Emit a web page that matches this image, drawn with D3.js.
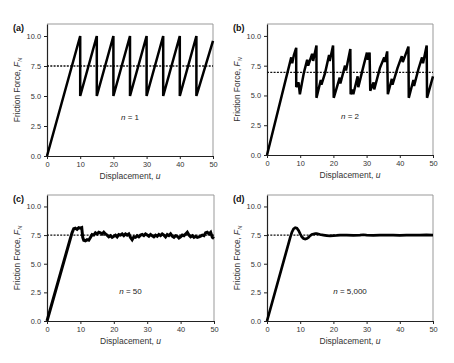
<!DOCTYPE html>
<html>
<head>
<meta charset="utf-8">
<script src="https://cdn.jsdelivr.net/npm/d3@7/dist/d3.min.js"></script>
<style>
  body { margin: 0; background: #fff; }
  svg { display: block; font-family: "Liberation Sans", Arial, sans-serif; }
</style>
</head>
<body>
<div id="chart"></div>
<script>
// data: [u, F_N]
var nOne = [[0,0],[10,10],[10,5],[15,10],[15,5],[20,10],[20,5],[25,10],[25,5],[30,10],[30,5],
  [35,10],[35,5],[40,10],[40,5],[45,10],[45,5],[50,9.6]];

var nTwo = [[0,0],[7.3,8.2],[7.6,7.7],[8.1,8.4],[8.8,9.0],[8.8,5.7],[9.5,6.1],[9.9,5.1],[11.1,6.9],
  [12.1,8.0],[12.4,7.5],[13.6,8.5],[13.9,7.9],[14.9,9.2],[14.9,4.8],[16.2,6.3],[16.4,5.9],[17.5,6.9],
  [18.7,8.4],[18.9,7.9],[19.9,9.2],[20.1,4.8],[21.9,6.5],[22.1,6.0],[23.5,7.5],[23.8,7.1],[25.1,8.9],
  [25.2,5.1],[25.8,5.5],[26.0,5.1],[27.3,6.6],[27.5,5.7],[29.0,7.4],[30.1,8.6],[30.4,8.0],[30.9,8.6],
  [31.1,5.4],[32.1,6.1],[32.3,5.5],[34.0,7.3],[35.3,8.2],[35.5,7.8],[36.2,8.7],[36.4,5.1],[37.6,6.4],
  [37.8,5.9],[39.3,7.3],[40.6,8.3],[40.9,7.8],[42.6,9.1],[42.7,4.8],[44.1,6.3],[44.3,5.8],[45.6,7.2],
  [46.7,8.2],[47.0,7.7],[48.1,9.2],[48.2,4.8],[50,6.6]];

var nFifty = [[0,0],[7.0,7.2],[7.5,7.7],[8.0,8.05],[8.5,8.1],[9.0,8.0],[9.5,8.15],[10.0,8.1],[10.4,8.15],
  [10.7,7.3],[11.0,7.05],[11.5,7.0],[12.0,7.1],[12.5,7.05],[13.0,7.3],[13.5,7.55],[14.0,7.5],[14.5,7.7],
  [15.0,7.6],[15.5,7.75],[16.0,7.7],[16.5,7.6],[17.0,7.75],[17.5,7.6],[18.0,7.5],[18.5,7.35],[19.0,7.45],
  [19.5,7.3],[20.0,7.4],[20.5,7.5],[21.0,7.35],[21.5,7.55],[22.0,7.5],[22.5,7.6],[23.0,7.45],[23.5,7.6],
  [24.0,7.5],[24.5,7.6],[25.0,7.3],[25.5,7.1],[26.0,7.35],[26.5,7.3],[27.0,7.45],[27.5,7.35],[28.0,7.5],
  [28.5,7.55],[29.0,7.45],[29.5,7.6],[30.0,7.5],[30.5,7.4],[31.0,7.55],[31.5,7.45],[32.0,7.35],[32.5,7.5],
  [33.0,7.4],[33.5,7.55],[34.0,7.45],[34.5,7.6],[35.0,7.5],[35.5,7.35],[36.0,7.55],[36.5,7.45],[37.0,7.6],
  [37.5,7.4],[38.0,7.3],[38.5,7.45],[39.0,7.4],[39.5,7.25],[40.0,7.35],[40.5,7.5],[41.0,7.45],[41.5,7.6],
  [42.0,7.75],[42.5,7.5],[43.0,7.35],[43.5,7.45],[44.0,7.3],[44.5,7.4],[45.0,7.3],[45.5,7.35],[46.0,7.4],
  [46.5,7.5],[47.0,7.45],[47.5,7.7],[48.0,7.75],[48.5,7.6],[49.0,7.75],[49.5,7.3],[50.0,7.2]];

var nFiveK = [[0,0],[7.0,7.3],[7.5,7.75],[8.0,8.05],[8.5,8.15],[9.0,8.1],[9.5,7.9],[10.0,7.6],[10.5,7.35],
  [11.0,7.2],[11.5,7.15],[12.0,7.2],[12.5,7.3],[13.0,7.45],[13.5,7.55],[14.0,7.6],[14.5,7.62],[15.0,7.62],
  [15.5,7.6],[16.0,7.55],[17.0,7.5],[18.0,7.45],[19.0,7.43],[20.0,7.45],[21.0,7.47],[22.0,7.5],[24.0,7.5],
  [26.0,7.48],[28.0,7.5],[29.0,7.53],[30.0,7.5],[32.0,7.48],[34.0,7.5],[36.0,7.49],[38.0,7.5],[40.0,7.48],
  [42.0,7.5],[44.0,7.49],[46.0,7.5],[48.0,7.52],[50.0,7.5]];

var meanLevels = [7.5, 6.94, 7.5, 7.5];
var panelTags = ["(a)", "(b)", "(c)", "(d)"];
var nLabels = ["1", "2", "50", "5,000"];
var xTicks = [0, 10, 20, 30, 40, 50];
var yTicks = [0, 2.5, 5, 7.5, 10];

var series = [nOne, nTwo, nFifty, nFiveK];

var W = 454, H = 363;
var svg = d3.select("#chart").append("svg").attr("width", W).attr("height", H);

// panel boxes
var boxes = [
  {left: 47, top: 24, w: 166, h: 132, lw: 2.5},
  {left: 267, top: 24, w: 166, h: 131, lw: 2.5},
  {left: 47, top: 195, w: 167, h: 126, lw: 3},
  {left: 267, top: 195, w: 166, h: 126, lw: 2.7}
];
var noteY = [3.0, 3.0, 2.4, 2.4];

boxes.forEach(function(b, i) {
  var x = d3.scaleLinear().domain([0, 50]).range([0, b.w]);
  var y = d3.scaleLinear().domain([0, 11]).range([b.h, 0]);
  var g = svg.append("g").attr("transform", "translate(" + b.left + "," + b.top + ")");

  // gray top/right frame
  g.append("path")
    .attr("d", "M0,0H" + b.w + "V" + b.h)
    .attr("fill", "none").attr("stroke", "#999").attr("stroke-width", 1);

  var xa = g.append("g").attr("transform", "translate(0," + b.h + ")")
    .call(d3.axisBottom(x).tickValues(xTicks).tickSize(3).tickSizeOuter(0).tickPadding(3));
  var ya = g.append("g")
    .call(d3.axisLeft(y).tickValues(yTicks).tickFormat(d3.format(".1f")).tickSize(3).tickSizeOuter(0).tickPadding(3));
  [xa, ya].forEach(function(a) {
    a.select(".domain").attr("stroke", "#222").attr("stroke-width", 1.2);
    a.selectAll(".tick line").attr("stroke", "#222");
    a.selectAll(".tick text").attr("fill", "#333").style("font-size", "7.4px").style("font-family", "Liberation Sans, Arial, sans-serif");
  });

  // mean level
  g.append("line")
    .attr("x1", 0).attr("x2", b.w)
    .attr("y1", y(meanLevels[i])).attr("y2", y(meanLevels[i]))
    .attr("stroke", "#111").attr("stroke-width", 1.3).attr("stroke-dasharray", "2,1.3");

  var line = d3.line().x(function(d) { return x(d[0]); }).y(function(d) { return y(d[1]); });
  g.append("path").datum(series[i])
    .attr("d", line)
    .attr("fill", "none").attr("stroke", "#000").attr("stroke-width", b.lw)
    .attr("stroke-linejoin", "miter").attr("stroke-miterlimit", 3);

  // n annotation
  var t = g.append("text").attr("x", x(25)).attr("y", y(noteY[i]))
    .attr("text-anchor", "middle").attr("fill", "#222").style("font-size", "8px");
  t.append("tspan").attr("font-style", "italic").text("n");
  t.append("tspan").text(" = " + nLabels[i]);

  // x label
  var xl = g.append("text").attr("x", b.w / 2).attr("y", b.h + 22.5)
    .attr("text-anchor", "middle").attr("fill", "#333").style("font-size", "8.5px");
  xl.append("tspan").text("Displacement, ");
  xl.append("tspan").attr("font-style", "italic").text("u");

  // y label
  var yl = g.append("text")
    .attr("transform", "translate(-27," + (b.h / 2) + ") rotate(-90)")
    .attr("text-anchor", "middle").attr("fill", "#333").style("font-size", "8.3px");
  yl.append("tspan").text("Friction Force, ");
  yl.append("tspan").attr("font-style", "italic").text("F");
  yl.append("tspan").attr("font-style", "italic").attr("dy", "2").style("font-size", "5.5px").text("N");

  // panel tag
  svg.append("text").attr("x", b.left - 34).attr("y", b.top + 7)
    .attr("font-weight", "bold").attr("fill", "#111").style("font-size", "9px")
    .text(panelTags[i]);
});
</script>
</body>
</html>
